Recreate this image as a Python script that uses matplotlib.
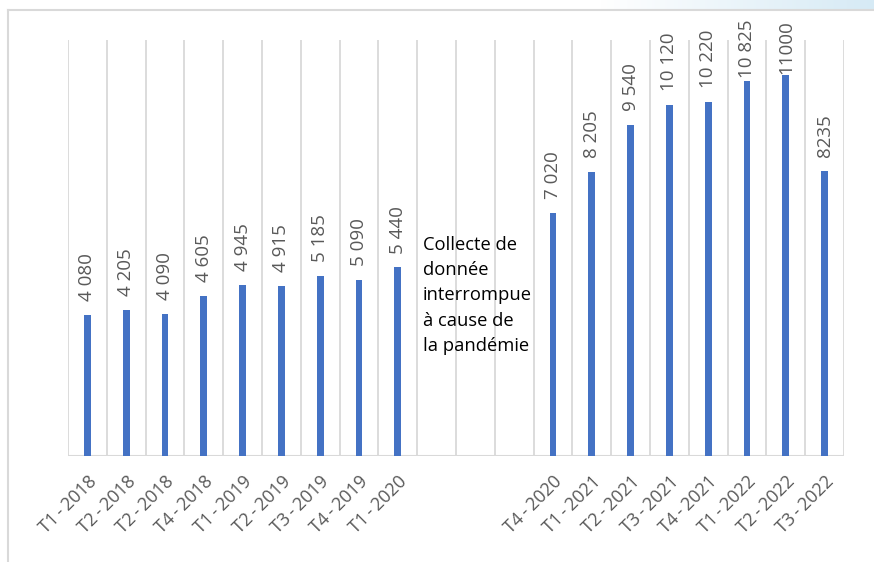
import numpy as np
import matplotlib.pyplot as plt
from matplotlib.lines import Line2D

periods = ["T1-2018", "T2-2018", "T2-2018", "T4-2018", "T1-2019", "T2-2019",
           "T3-2019", "T4-2019", "T1-2020", "", "", "",
           "T4-2020", "T1-2021", "T2-2021", "T3-2021", "T4-2021", "T1-2022",
           "T2-2022", "T3-2022"]
values = [4080, 4205, 4090, 4605, 4945, 4915, 5185, 5090, 5440, None, None, None,
          7020, 8205, 9540, 10120, 10220, 10825, 11000, 8235]
value_labels = ["4 080", "4 205", "4 090", "4 605", "4 945", "4 915", "5 185",
                "5 090", "5 440", "", "", "", "7 020", "8 205", "9 540",
                "10 120", "10 220", "10 825", "11000", "8235"]
note = "Collecte de\ndonnée\ninterrompue\nà cause de\nla pandémie"

plt.rcParams['font.family'] = ['Open Sans', 'DejaVu Sans']
W, H = 874, 562
fig = plt.figure(figsize=(W / 100, H / 100), dpi=100)

# light blue band at the top right
band = fig.add_axes([600 / W, 1 - 10 / H, 274 / W, 10 / H])
grad = np.linspace(0, 1, 256).reshape(1, -1)
band.imshow(grad, aspect='auto', cmap=plt.matplotlib.colors.LinearSegmentedColormap.from_list(
    'b', ['#ffffff', '#d6eaf5']), extent=[0, 1, 0, 1])
band.axis('off')

# outer frame (left and top)
fig.add_artist(Line2D([8 / W, 8 / W], [0, 1 - 10 / H], color='#d9d9d9', lw=1.5))
fig.add_artist(Line2D([8 / W, 1], [1 - 10 / H, 1 - 10 / H], color='#d9d9d9', lw=1.5))

ax = fig.add_axes([68 / W, (H - 456) / H, (844 - 68) / W, (456 - 40) / H])
n = len(periods)
x = np.arange(n)
heights = [v if v is not None else 0 for v in values]
ax.bar(x, heights, width=0.18, color='#4472c4', zorder=3)

for i in range(n + 1):
    ax.axvline(i - 0.5, color='#d9d9d9', lw=1.3, zorder=1)
ax.axhline(0, color='#d9d9d9', lw=1.5, zorder=2)

labels = []
for xi, v, lab in zip(x, values, value_labels):
    if v is None:
        continue
    t = ax.annotate(lab, (xi, v), xytext=(0, 10), textcoords='offset points',
                    rotation=90, ha='center', va='bottom', fontsize=13.5,
                    color='#595959', annotation_clip=False)
    labels.append(t)

ax.text(8.65, 6360, note, ha='left', va='top', fontsize=13.2, color='black',
        linespacing=1.53)

ax.set_xlim(-0.5, n - 0.5)
ax.set_ylim(0, 12000)
ax.set_yticks([])
ax.set_xticks(x)
ax.set_xticklabels([p.replace("-", "\u2009-\u2009") for p in periods],
                   rotation=45, ha='right', rotation_mode='anchor',
                   fontsize=13, color='#595959')
ax.tick_params(axis='x', length=0, pad=12)
for s in ax.spines.values():
    s.set_visible(False)

# keep the value labels inside the chart area (top limit ~20 px from the top)
fig.canvas.draw()
r = fig.canvas.get_renderer()
for t in labels:
    bb = t.get_window_extent(r)
    over = bb.y1 - (H - 20)
    if over > 0:
        dx, dy = t.xyann
        t.xyann = (dx, dy - over * 72 / 100)

fig.savefig('out.png', dpi=100)
